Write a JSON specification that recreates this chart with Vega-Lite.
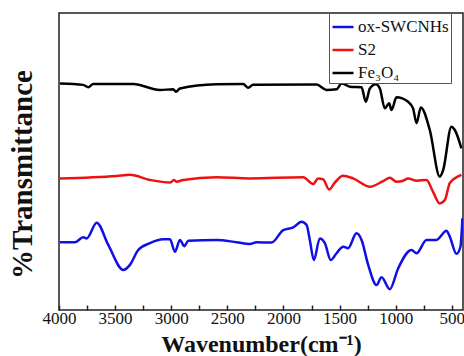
{
  "$schema": "https://vega.github.io/schema/vega-lite/v6.json",
  "width": 404,
  "height": 297,
  "autosize": "none",
  "padding": {"left": 59, "top": 13, "right": 1, "bottom": 46},
  "background": "white",
  "config": {
    "view": {"stroke": "#222", "strokeWidth": 1.5},
    "font": "Liberation Serif, Times New Roman, serif"
  },
  "data": {
    "values": [
      {"s": "Fe₃O₄", "wn": 3991, "t": 76.3}, {"s": "Fe₃O₄", "wn": 3784, "t": 75.8}, {"s": "Fe₃O₄", "wn": 3739, "t": 75.0}, {"s": "Fe₃O₄", "wn": 3695, "t": 76.1}, {"s": "Fe₃O₄", "wn": 3338, "t": 76.1}, {"s": "Fe₃O₄", "wn": 3101, "t": 74.1}, {"s": "Fe₃O₄", "wn": 2982, "t": 74.3}, {"s": "Fe₃O₄", "wn": 2958, "t": 73.5}, {"s": "Fe₃O₄", "wn": 2922, "t": 74.6}, {"s": "Fe₃O₄", "wn": 2596, "t": 76.0}, {"s": "Fe₃O₄", "wn": 2359, "t": 76.1}, {"s": "Fe₃O₄", "wn": 2314, "t": 74.8}, {"s": "Fe₃O₄", "wn": 2272, "t": 75.8}, {"s": "Fe₃O₄", "wn": 1705, "t": 75.9}, {"s": "Fe₃O₄", "wn": 1616, "t": 74.1}, {"s": "Fe₃O₄", "wn": 1527, "t": 74.3}, {"s": "Fe₃O₄", "wn": 1482, "t": 76.3}, {"s": "Fe₃O₄", "wn": 1408, "t": 75.2}, {"s": "Fe₃O₄", "wn": 1304, "t": 75.0}, {"s": "Fe₃O₄", "wn": 1266, "t": 70.1}, {"s": "Fe₃O₄", "wn": 1230, "t": 74.6}, {"s": "Fe₃O₄", "wn": 1177, "t": 76.0}, {"s": "Fe₃O₄", "wn": 1141, "t": 74.6}, {"s": "Fe₃O₄", "wn": 1097, "t": 67.9}, {"s": "Fe₃O₄", "wn": 1058, "t": 69.6}, {"s": "Fe₃O₄", "wn": 1037, "t": 67.3}, {"s": "Fe₃O₄", "wn": 993, "t": 71.6}, {"s": "Fe₃O₄", "wn": 889, "t": 70.1}, {"s": "Fe₃O₄", "wn": 845, "t": 67.9}, {"s": "Fe₃O₄", "wn": 814, "t": 62.9}, {"s": "Fe₃O₄", "wn": 776, "t": 68.2}, {"s": "Fe₃O₄", "wn": 696, "t": 60.6}, {"s": "Fe₃O₄", "wn": 607, "t": 44.9}, {"s": "Fe₃O₄", "wn": 577, "t": 47.1}, {"s": "Fe₃O₄", "wn": 503, "t": 61.7}, {"s": "Fe₃O₄", "wn": 473, "t": 60.6}, {"s": "Fe₃O₄", "wn": 414, "t": 54.4},
      {"s": "S2", "wn": 3991, "t": 44.3}, {"s": "S2", "wn": 3486, "t": 45.1}, {"s": "S2", "wn": 3368, "t": 45.5}, {"s": "S2", "wn": 3190, "t": 43.8}, {"s": "S2", "wn": 3011, "t": 42.9}, {"s": "S2", "wn": 2976, "t": 43.8}, {"s": "S2", "wn": 2952, "t": 43.2}, {"s": "S2", "wn": 2893, "t": 43.8}, {"s": "S2", "wn": 2596, "t": 44.7}, {"s": "S2", "wn": 2299, "t": 44.3}, {"s": "S2", "wn": 1824, "t": 44.7}, {"s": "S2", "wn": 1735, "t": 42.4}, {"s": "S2", "wn": 1691, "t": 44.3}, {"s": "S2", "wn": 1646, "t": 44.0}, {"s": "S2", "wn": 1593, "t": 40.6}, {"s": "S2", "wn": 1542, "t": 42.9}, {"s": "S2", "wn": 1468, "t": 45.2}, {"s": "S2", "wn": 1379, "t": 44.3}, {"s": "S2", "wn": 1230, "t": 41.5}, {"s": "S2", "wn": 1112, "t": 43.4}, {"s": "S2", "wn": 1052, "t": 44.5}, {"s": "S2", "wn": 993, "t": 43.2}, {"s": "S2", "wn": 934, "t": 43.5}, {"s": "S2", "wn": 889, "t": 44.3}, {"s": "S2", "wn": 814, "t": 43.5}, {"s": "S2", "wn": 725, "t": 43.8}, {"s": "S2", "wn": 667, "t": 39.8}, {"s": "S2", "wn": 607, "t": 35.9}, {"s": "S2", "wn": 562, "t": 37.0}, {"s": "S2", "wn": 518, "t": 42.7}, {"s": "S2", "wn": 458, "t": 44.7}, {"s": "S2", "wn": 414, "t": 45.5},
      {"s": "ox-SWCNHs", "wn": 3991, "t": 22.8}, {"s": "ox-SWCNHs", "wn": 3858, "t": 22.8}, {"s": "ox-SWCNHs", "wn": 3784, "t": 24.5}, {"s": "ox-SWCNHs", "wn": 3753, "t": 24.1}, {"s": "ox-SWCNHs", "wn": 3664, "t": 29.4}, {"s": "ox-SWCNHs", "wn": 3561, "t": 21.9}, {"s": "ox-SWCNHs", "wn": 3427, "t": 13.5}, {"s": "ox-SWCNHs", "wn": 3368, "t": 15.2}, {"s": "ox-SWCNHs", "wn": 3294, "t": 20.2}, {"s": "ox-SWCNHs", "wn": 3190, "t": 22.5}, {"s": "ox-SWCNHs", "wn": 3071, "t": 23.8}, {"s": "ox-SWCNHs", "wn": 3011, "t": 23.8}, {"s": "ox-SWCNHs", "wn": 2967, "t": 19.6}, {"s": "ox-SWCNHs", "wn": 2922, "t": 23.6}, {"s": "ox-SWCNHs", "wn": 2884, "t": 21.5}, {"s": "ox-SWCNHs", "wn": 2848, "t": 23.3}, {"s": "ox-SWCNHs", "wn": 2596, "t": 23.6}, {"s": "ox-SWCNHs", "wn": 2417, "t": 22.8}, {"s": "ox-SWCNHs", "wn": 2299, "t": 22.2}, {"s": "ox-SWCNHs", "wn": 2239, "t": 22.8}, {"s": "ox-SWCNHs", "wn": 2106, "t": 22.7}, {"s": "ox-SWCNHs", "wn": 2002, "t": 26.9}, {"s": "ox-SWCNHs", "wn": 1913, "t": 27.8}, {"s": "ox-SWCNHs", "wn": 1839, "t": 29.7}, {"s": "ox-SWCNHs", "wn": 1794, "t": 28.6}, {"s": "ox-SWCNHs", "wn": 1765, "t": 23.6}, {"s": "ox-SWCNHs", "wn": 1729, "t": 16.8}, {"s": "ox-SWCNHs", "wn": 1676, "t": 24.1}, {"s": "ox-SWCNHs", "wn": 1631, "t": 22.5}, {"s": "ox-SWCNHs", "wn": 1578, "t": 16.8}, {"s": "ox-SWCNHs", "wn": 1527, "t": 19.1}, {"s": "ox-SWCNHs", "wn": 1468, "t": 21.3}, {"s": "ox-SWCNHs", "wn": 1424, "t": 20.8}, {"s": "ox-SWCNHs", "wn": 1349, "t": 25.8}, {"s": "ox-SWCNHs", "wn": 1304, "t": 23.6}, {"s": "ox-SWCNHs", "wn": 1245, "t": 15.2}, {"s": "ox-SWCNHs", "wn": 1171, "t": 8.4}, {"s": "ox-SWCNHs", "wn": 1126, "t": 11.0}, {"s": "ox-SWCNHs", "wn": 1052, "t": 7.0}, {"s": "ox-SWCNHs", "wn": 978, "t": 14.0}, {"s": "ox-SWCNHs", "wn": 859, "t": 20.2}, {"s": "ox-SWCNHs", "wn": 814, "t": 19.1}, {"s": "ox-SWCNHs", "wn": 725, "t": 23.6}, {"s": "ox-SWCNHs", "wn": 636, "t": 23.6}, {"s": "ox-SWCNHs", "wn": 547, "t": 26.7}, {"s": "ox-SWCNHs", "wn": 518, "t": 24.7}, {"s": "ox-SWCNHs", "wn": 458, "t": 18.9}, {"s": "ox-SWCNHs", "wn": 423, "t": 21.3}, {"s": "ox-SWCNHs", "wn": 405, "t": 30.9}
    ]
  },
  "mark": {"type": "line", "strokeWidth": 2.5, "interpolate": "monotone", "clip": true},
  "encoding": {
    "x": {
      "field": "wn", "type": "quantitative",
      "scale": {"domain": [400, 4000], "reverse": true, "nice": false, "zero": false},
      "axis": {
        "values": [4000, 3750, 3500, 3250, 3000, 2750, 2500, 2250, 2000, 1750, 1500, 1250, 1000, 750, 500],
        "labelExpr": "datum.value % 500 === 0 ? datum.value : ''",
        "tickSize": -5, "tickColor": "#222", "tickWidth": 1.5,
        "domain": false, "grid": false,
        "labelFont": "Liberation Serif, Times New Roman, serif", "labelFontSize": 17, "labelFontWeight": "normal", "labelColor": "#111", "labelPadding": 5,
        "labelOverlap": false, "labelFlush": false,
        "title": "Wavenumber(cm⁻¹)",
        "titleFont": "Liberation Serif, Times New Roman, serif", "titleFontSize": 24, "titleFontWeight": "bold", "titleColor": "#111",
        "titlePadding": 6
      }
    },
    "y": {
      "field": "t", "type": "quantitative",
      "scale": {"domain": [0, 100], "nice": false},
      "axis": {
        "ticks": false, "labels": false, "domain": false, "grid": false,
        "title": "%Transmittance",
        "titleFont": "Liberation Serif, Times New Roman, serif", "titleFontSize": 29, "titleFontWeight": "bold", "titleColor": "#111",
        "titleAngle": 270, "titleAlign": "center", "titleBaseline": "middle",
        "titleX": -37, "titleY": 161
      }
    },
    "color": {
      "field": "s", "type": "nominal",
      "scale": {"domain": ["ox-SWCNHs", "S2", "Fe₃O₄"], "range": ["#1010e6", "#ee1111", "#000000"]},
      "legend": {
        "title": null, "orient": "none", "legendX": 270, "legendY": 0,
        "symbolType": "stroke", "symbolSize": 441, "symbolStrokeWidth": 2.5,
        "labelFont": "Liberation Serif, Times New Roman, serif", "labelFontSize": 17, "labelColor": "#111", "labelOffset": 3,
        "rowPadding": 3, "padding": 2, "strokeColor": "#555", "fillColor": "white"
      }
    }
  }
}
